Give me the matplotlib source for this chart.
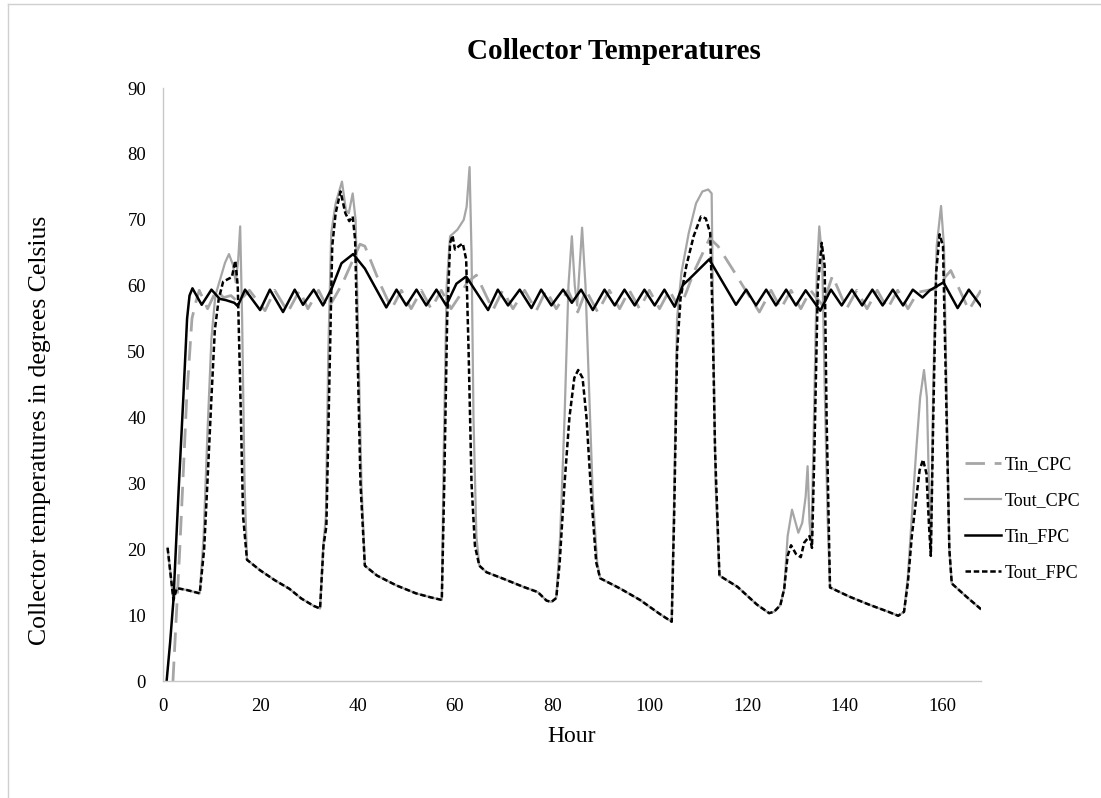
import matplotlib
matplotlib.use('Agg')
import matplotlib.pyplot as plt
from matplotlib.lines import Line2D

plt.rcParams['font.family'] = ['Liberation Serif', 'DejaVu Serif']

# hours / temperatures (deg C)
tin_cpc_h = [2.1, 3.5, 4.9, 6.0, 6.8, 7.5, 9.2, 11.0, 12.5, 14.0, 15.5, 17.8, 21.0, 23.0, 25.7, 28.1,
             29.8, 32.0, 33.9, 35.5, 37.0, 40.5, 41.5, 44.5, 47.0, 49.0, 51.0, 53.1, 55.1, 57.2, 59.2,
             61.0, 62.5, 64.4, 67.8, 69.8, 71.9, 74.3, 76.7, 78.7, 80.8, 83.2, 85.2, 86.9, 89.3, 91.7,
             93.8, 95.8, 97.9, 99.9, 102.0, 104.0, 106.1, 107.5, 109.0, 112.3, 114.0, 117.0, 119.5,
             122.5, 124.9, 126.9, 129.0, 131.0, 133.0, 135.5, 137.5, 140.4, 142.5, 144.6, 146.7, 148.8,
             150.9, 153.0, 155.0, 158.5, 161.8, 165.5, 168.0]
tin_cpc_t = [0, 20, 42.6, 55, 57.5, 59.3, 56.5, 59.3, 58.2, 58.5, 57.5, 59.3, 56.2, 59.3, 56.0, 59.3,
             56.5, 59.3, 56.5, 58.5, 60.5, 66.3, 66.0, 60.5, 56.5, 59.3, 56.5, 59.3, 56.5, 59.3, 56.5,
             58.5, 60.5, 61.6, 56.3, 59.3, 56.5, 59.3, 56.2, 59.3, 56.5, 59.3, 56.0, 59.3, 56.0, 59.3,
             56.5, 59.3, 56.5, 59.3, 56.5, 59.3, 56.5, 59.0, 62.0, 67.2, 66.0, 62.5, 59.5,
             56.0, 59.3, 56.5, 59.3, 56.5, 59.3, 57.0, 61.5, 56.5, 59.3, 56.5, 59.3, 56.5,
             59.3, 56.5, 59.0, 59.5, 62.3, 56.3, 59.3]

tout_cpc_h = [1.0, 2.2, 2.9, 5.0, 7.6, 8.4, 9.2, 10.0, 10.8, 11.8, 12.8, 13.6, 14.4, 15.0, 15.5, 15.9,
              16.3, 16.8, 17.3, 20.0, 23.0, 26.0, 28.5, 31.0, 32.3, 33.0, 33.5, 34.0, 34.6, 35.5, 36.8,
              37.6, 38.2, 39.0, 39.6, 40.2, 40.8, 41.5, 44.0, 48.0, 52.0, 55.0, 57.3, 57.7, 58.3, 59.0,
              60.5, 61.8, 62.4, 63.0, 63.4, 63.8, 64.4, 65.0, 66.5, 70.0, 74.0, 77.0, 78.8, 79.8, 80.8,
              81.6, 82.5, 83.3, 84.0, 84.6, 85.1, 85.6, 86.1, 86.8, 87.5, 88.3, 89.2, 89.8, 94.0, 98.0,
              102.0, 104.5, 105.0, 105.6, 106.5, 108.0, 109.5, 110.8, 112.0, 112.7, 113.0, 113.5, 114.3,
              118.0, 122.0, 124.5, 125.5, 126.8, 127.6, 128.3, 129.2, 130.5, 131.3, 132.0, 132.4, 132.8,
              133.2, 133.7, 134.3, 134.8, 135.4, 135.9, 136.5, 137.0, 141.0, 145.0, 149.0, 151.0, 152.2,
              153.0, 153.8, 154.7, 155.5, 156.3, 156.9, 157.3, 157.7, 158.2, 158.9, 159.8, 160.4, 160.9,
              161.5, 162.0, 165.0, 168.0]
tout_cpc_t = [20.2, 12.3, 14.1, 13.8, 13.3, 22, 38, 52, 58.5, 61, 63.5, 64.8, 63.2, 60.5, 64, 69.0,
              55, 30, 18.4, 16.8, 15.3, 14.0, 12.5, 11.4, 11.0, 21, 25, 50, 68, 72.5, 75.8,
              71.5, 71, 74, 70, 50, 30, 17.5, 16, 14.5, 13.3, 12.7, 12.3, 35, 60, 67.5,
              68.5, 70.0, 72, 78.0, 65, 40, 22, 17.5, 16.5, 15.5, 14.3, 13.5, 12.2, 12.0, 12.6,
              22, 40, 60, 67.5, 60, 57, 63, 68.8, 60, 45, 28, 18, 15.6, 14.0, 12.3,
              10.2, 9.0, 28, 55, 62, 68, 72.5, 74.3, 74.6, 74, 55, 30, 16.0,
              14.3, 11.6, 10.3, 10.5, 11.5, 14, 22, 26, 22.5, 24, 28, 32.6, 24,
              21, 40, 62, 69.0, 64, 45, 25, 14.2, 12.8, 11.6, 10.5, 9.9, 10.5,
              16, 25, 35, 43, 47.2, 43, 30, 19, 45, 66, 72.1, 66, 45,
              20, 14.8, 12.8, 10.9]

tin_fpc_h = [0.8, 1.5, 2.2, 3.2, 4.2, 5.0, 5.5, 6.1, 8.0, 10.0, 11.7, 13.0, 14.7, 15.4, 16.9, 20.0,
             22.0, 24.7, 27.1, 28.8, 31.0, 32.9, 34.7, 36.7, 39.1, 41.5, 45.9, 48.0, 50.0, 52.1, 54.1,
             56.2, 58.2, 60.3, 62.3, 66.8, 68.8, 70.9, 73.3, 75.7, 77.7, 79.8, 82.2, 84.0, 85.9, 88.3,
             90.7, 92.8, 94.8, 96.9, 98.9, 101.0, 103.0, 105.1, 106.8, 108.1, 112.2, 117.7, 119.8,
             121.8, 123.9, 125.9, 128.0, 130.0, 132.0, 135.0, 137.2, 139.4, 141.5, 143.6, 145.7, 147.8,
             149.9, 152.0, 154.0, 156.0, 157.5, 160.3, 163.2, 165.5, 168.0]
tin_fpc_t = [0, 5.7, 12.3, 28, 42.6, 55, 58.5, 59.6, 57.1, 59.4, 58.0, 57.8, 57.4, 56.9, 59.4, 56.3,
             59.4, 56.0, 59.4, 57.1, 59.4, 57.0, 59.6, 63.4, 64.8, 62.6, 56.7, 59.4, 57.0, 59.4, 57.0,
             59.4, 57.0, 60.3, 61.4, 56.3, 59.4, 57.0, 59.4, 56.6, 59.4, 57.0, 59.4, 57.4, 59.4, 56.3,
             59.4, 57.0, 59.4, 57.0, 59.4, 57.0, 59.4, 56.8, 60.1, 61.0, 64.0, 57.1, 59.4,
             57.0, 59.4, 57.0, 59.4, 57.0, 59.3, 56.2, 59.4, 57.0, 59.4, 57.0, 59.4, 57.0,
             59.4, 57.0, 59.4, 58.2, 59.3, 60.5, 56.6, 59.4, 56.9]

tout_fpc_h = [1.0, 2.2, 2.9, 5.0, 7.6, 8.5, 9.3, 10.0, 10.7, 11.5, 12.4, 13.4, 14.2, 14.9, 15.4, 15.9,
              16.5, 17.3, 20.0, 23.0, 26.0, 28.5, 31.0, 32.3, 33.0, 33.6, 34.2, 34.8, 35.5, 36.5, 37.5,
              38.3, 39.0, 39.5, 40.0, 40.6, 41.5, 44.0, 48.0, 52.0, 55.0, 57.3, 57.8, 58.4, 59.0, 59.5,
              60.0, 60.8, 61.6, 62.3, 62.8, 63.4, 64.1, 65.0, 66.5, 70.0, 74.0, 77.0, 78.8, 79.8, 80.8,
              81.5, 82.5, 83.5, 84.5, 85.3, 86.2, 87.0, 88.0, 89.0, 89.8, 94.0, 98.0, 102.0, 104.5,
              105.0, 105.6, 106.3, 107.5, 109.0, 110.5, 111.5, 112.4, 112.9, 113.4, 114.3, 118.0, 122.0,
              124.5, 125.5, 126.8, 127.6, 128.3, 129.0, 130.0, 131.0, 131.7, 132.8, 133.3, 133.8, 134.5,
              135.3, 135.9, 136.3, 137.0, 141.0, 145.0, 149.0, 151.0, 152.2, 153.0, 153.8, 154.6, 155.4,
              156.1, 156.8, 157.3, 157.7, 158.2, 158.8, 159.5, 160.2, 160.8, 161.5, 162.0, 165.0, 168.0]
tout_fpc_t = [20.2, 12.3, 14.1, 13.8, 13.3, 20, 32, 43, 53.3, 58, 60.6, 61.0, 61.3, 63.8, 60, 45,
              25, 18.4, 16.8, 15.3, 14.0, 12.5, 11.4, 11.0, 20.5, 23.5, 45, 66, 71, 74.3, 71,
              69.8, 70.5, 67, 50, 30, 17.5, 16, 14.5, 13.3, 12.7, 12.3, 30, 55, 66.5, 67.6,
              65.5, 66.0, 66.4, 64, 50, 30, 20.5, 17.5, 16.5, 15.5, 14.3, 13.5, 12.2, 12.0, 12.6,
              18, 30, 40, 46, 47.2, 46, 40, 28, 18, 15.6, 14.0, 12.3, 10.2, 9.0,
              25, 50, 58, 63, 67.5, 70.5, 70.2, 68, 55, 35, 16.0, 14.3, 11.6,
              10.3, 10.5, 11.5, 14, 19, 20.6, 19.3, 18.8, 21, 22, 20.2, 35, 60,
              66.5, 63, 40, 14.2, 12.8, 11.6, 10.5, 9.9, 10.5, 15, 22, 27, 32,
              33.6, 31.5, 24, 19, 40, 62, 67.8, 66, 45, 20, 14.8, 12.8, 10.9]

x_ticks = [0, 20, 40, 60, 80, 100, 120, 140, 160]
y_ticks = [0, 10, 20, 30, 40, 50, 60, 70, 80, 90]

fig = plt.figure(figsize=(11.01, 7.98), dpi=100)
ax = fig.add_axes([0.1478, 0.1466, 0.7432, 0.7431])

grey = '#A6A6A6'
l1, = ax.plot(tin_cpc_h, tin_cpc_t, color=grey, lw=2, dashes=(7, 3.5))
l2, = ax.plot(tout_cpc_h, tout_cpc_t, color=grey, lw=1.6)
l3, = ax.plot(tin_fpc_h, tin_fpc_t, color='black', lw=1.8)
l4, = ax.plot(tout_fpc_h, tout_fpc_t, color='black', lw=1.8, dashes=(2.2, 1.1))

ax.set_xlim(0, 168)
ax.set_ylim(0, 90)
ax.set_xticks(x_ticks)
ax.set_yticks(y_ticks)
ax.tick_params(length=0, labelsize=13.5, pad=12)
for side in ['top', 'right']:
    ax.spines[side].set_visible(False)
for side in ['left', 'bottom']:
    ax.spines[side].set_color('#C8C8C8')
    ax.spines[side].set_linewidth(1)

ax.set_xlabel('Hour', fontsize=17, labelpad=8)
ax.set_ylabel('Collector temperatures in degrees Celsius', fontsize=18.5)
ax.yaxis.set_label_coords(-0.137, 0.423)
fig.text(0.558, 0.935, 'Collector Temperatures', ha='center', va='center',
         fontsize=21, fontweight='bold')

fig.legend([l1, l2, l3, l4], ['Tin_CPC', 'Tout_CPC', 'Tin_FPC', 'Tout_FPC'],
           loc='center left', bbox_to_anchor=(0.862, 0.35), frameon=False,
           fontsize=13, handlelength=2.0, handletextpad=0.2, labelspacing=1.05)

# chart area border
fig.add_artist(Line2D([0.007, 0.007], [0, 0.995], color='#D0D0D0', lw=1, transform=fig.transFigure))
fig.add_artist(Line2D([0.007, 1], [0.995, 0.995], color='#D0D0D0', lw=1, transform=fig.transFigure))

fig.savefig('out.png', dpi=100)
